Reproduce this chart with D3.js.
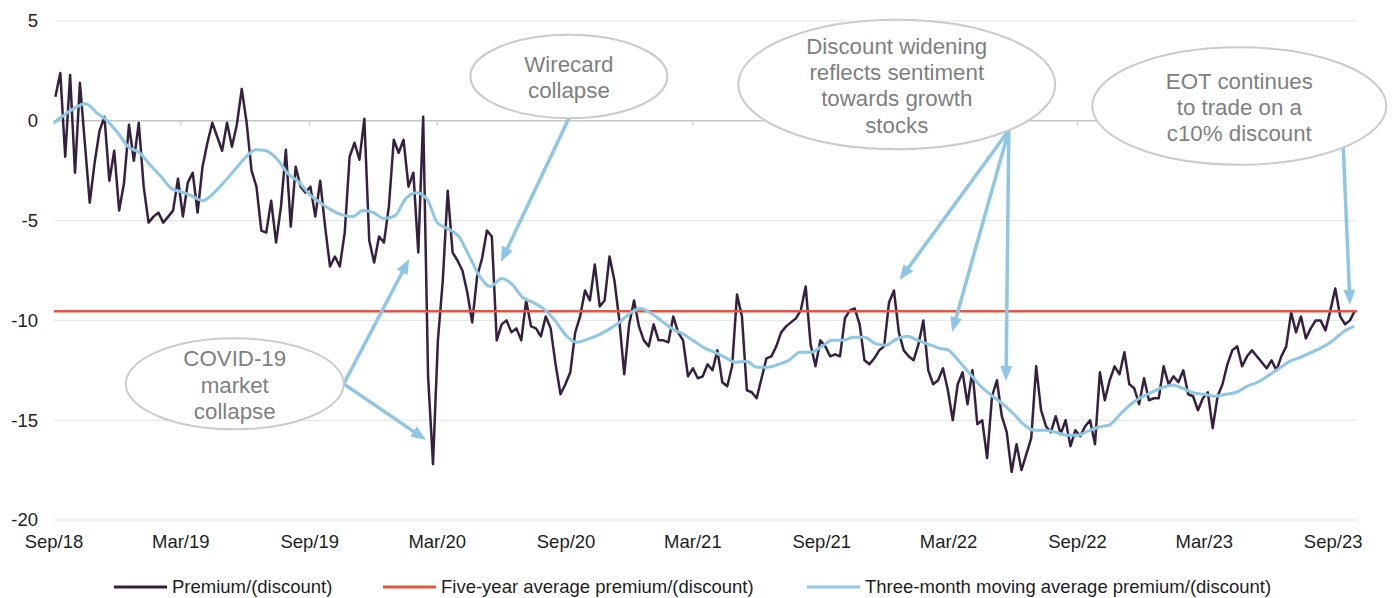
<!DOCTYPE html>
<html lang="en">
<head>
    <meta charset="UTF-8">
    <title>Premium/(discount)</title>
    <script src="https://d3js.org/d3.v7.min.js"></script>
    <style>
        body { margin: 0; background: #fff; }
        text { font-family: "Liberation Sans", Arial, sans-serif; }
    </style>
</head>
<body>
    <svg width="1392" height="598" id="chart"></svg>

    <script>
        // weekly premium/(discount) readings, one per Monday from 3 Sep 2018
        var premiumStart = "2018-09-03";
        var premiumValues = [
            1.2, 2.4, -1.8, 2.3, -2.6, 1.9, -1.1, -4.1, -2.1, -0.5,
            0.2, -3.0, -1.5, -4.5, -3.1, -0.2, -2.0, -0.1, -3.3, -5.1,
            -4.8, -4.6, -5.1, -4.8, -4.5, -2.9, -4.8, -3.1, -2.6, -4.6,
            -2.3, -1.1, -0.1, -0.8, -1.5, -0.1, -1.3, -0.2, 1.6, -0.1,
            -2.5, -3.3, -5.5, -5.6, -4.0, -6.1, -4.3, -1.45, -5.3, -2.3,
            -3.3, -3.6, -3.3, -4.8, -3.0, -5.3, -7.3, -6.8, -7.3, -5.6,
            -1.8, -1.1, -1.95, 0.1, -6.0, -7.1, -5.8, -6.1, -4.3, -0.95,
            -1.6, -0.95, -3.3, -2.6, -6.6, 0.2, -12.8, -17.2, -11.0, -8.0,
            -3.5, -6.6, -7.0, -7.5, -8.6, -10.1, -7.8, -6.9, -5.5, -5.8,
            -11.0, -10.2, -10.0, -10.6, -10.4, -11.0, -9.0, -10.3, -10.4, -10.8,
            -9.8, -10.4, -12.2, -13.7, -13.2, -12.6, -10.6, -9.8, -8.5, -9.0,
            -7.2, -9.3, -9.0, -6.8, -8.0, -10.0, -12.7, -10.2, -9.0, -10.3,
            -11.0, -11.3, -10.2, -11.0, -11.0, -11.1, -9.8, -10.6, -11.0, -12.8,
            -12.4, -12.9, -12.8, -12.2, -12.5, -11.5, -13.1, -13.3, -12.3, -8.7,
            -9.8, -13.5, -13.6, -13.9, -12.9, -11.9, -11.8, -11.3, -10.6, -10.3,
            -10.1, -9.9, -9.5, -8.3, -11.2, -12.3, -11.0, -11.3, -11.8, -11.7,
            -11.8, -9.9, -9.5, -9.4, -10.2, -12.0, -12.2, -11.9, -11.5, -11.3,
            -9.1, -8.5, -10.6, -11.5, -11.8, -12.0, -11.2, -10.0, -12.5, -13.2,
            -13.0, -12.4, -13.5, -15.0, -13.2, -12.6, -14.2, -12.5, -15.2, -15.0,
            -16.9, -13.8, -13.0, -14.8, -15.6, -17.6, -16.2, -17.5, -16.7, -15.9,
            -12.3, -14.5, -15.3, -15.6, -14.8, -15.7, -15.0, -16.3, -15.5, -15.8,
            -15.3, -15.0, -16.2, -12.6, -14.0, -13.0, -12.3, -12.7, -11.6, -13.2,
            -13.4, -14.2, -12.9, -14.0, -13.9, -13.9, -12.3, -13.2, -12.8, -13.1,
            -12.5, -13.7, -13.8, -14.5, -13.9, -13.6, -15.4, -13.8, -13.2, -12.2,
            -11.5, -11.3, -12.3, -11.8, -11.5, -11.8, -12.1, -12.4, -12.0, -12.5,
            -11.8, -11.3, -9.6, -10.6, -9.8, -10.9, -10.4, -10.0, -10.0, -10.5,
            -9.5, -8.4, -9.8, -10.2, -10.0, -9.5
        ];

        // three-month moving average, read on the 1st and 16th of each month from Sep 2018
        var maStart = "2018-09-01";
        var maValues = [
            -0.1, 0.3, 0.65, 0.85, 0.4, 0.0, -0.6, -1.3,
            -1.6, -2.2, -2.8, -3.4, -3.55, -3.75, -4.0, -3.65, -3.1, -2.5, -1.85, -1.45,
            -1.5, -1.9, -2.65, -3.05, -3.7, -4.1, -4.45, -4.7, -4.8, -4.5, -4.6, -4.9,
            -4.75, -3.9, -3.6, -3.95, -5.1, -5.4, -5.8, -6.8, -7.8, -8.3, -7.9, -8.2,
            -8.85, -9.1, -9.45, -10.0, -10.75, -11.1, -10.95, -10.75, -10.45, -10.1, -9.65, -9.4,
            -9.65, -10.05, -10.45, -10.7, -11.0, -11.35, -11.6, -11.85, -12.1, -12.05, -12.35, -12.35,
            -12.2, -12.0, -11.6, -11.6, -11.3, -11.0, -11.0, -10.85, -10.85, -11.15, -11.25, -10.95,
            -10.8, -11.0, -11.2, -11.4, -11.5, -12.05, -12.7, -13.3, -13.75, -14.15, -14.65, -15.2,
            -15.5, -15.5, -15.6, -15.75, -15.75, -15.55, -15.35, -15.25, -14.7, -14.2, -13.85, -13.6,
            -13.35, -13.25, -13.45, -13.65, -13.7, -13.8, -13.7, -13.6, -13.3, -13.1, -12.75, -12.4,
            -12.05, -11.85, -11.6, -11.35, -11.0, -10.55, -10.3
        ];

        var fiveYearAverage = -9.54;

        var xTickLabels = ["Sep/18", "Mar/19", "Sep/19", "Mar/20", "Sep/20", "Mar/21",
                           "Sep/21", "Mar/22", "Sep/22", "Mar/23", "Sep/23"];
        var yTicks = [5, 0, -5, -10, -15, -20];

        var seriesNames = ["Premium/(discount)", "Five-year average premium/(discount)",
                           "Three-month moving average premium/(discount)"];
        var colors = ["#35213f", "#e8543e", "#8cc7e8"];

        // callouts: ellipse centre as (date, value), arrow tips as (date, value)
        var notes = [
            { lines: ["COVID-19", "market", "collapse"], date: "2019-05-17", value: -13.18, rx: 109, ry: 45.5,
              from: 0, tips: [["2020-01-21", -6.92], ["2020-02-14", -15.99]] },
            { lines: ["Wirecard", "collapse"], date: "2020-09-05", value: 2.22, rx: 98.5, ry: 41.7,
              from: 90, tips: [["2020-05-31", -7.07]] },
            { lines: ["Discount widening", "reflects sentiment", "towards growth", "stocks"], date: "2021-12-17", value: 1.82, rx: 158.5, ry: 64.7,
              from: 45, tips: [["2021-12-21", -7.97], ["2022-03-06", -10.58], ["2022-05-22", -13.03]] },
            { lines: ["EOT continues", "to trade on a", "c10% discount"], date: "2023-04-20", value: 0.74, rx: 147, ry: 58.7,
              from: 45, tips: [["2023-09-25", -9.22]] }
        ];

        var parse = d3.timeParse("%Y-%m-%d");
        var svg = d3.select("#chart");

        var x = d3.scaleTime()
            .domain([parse("2018-09-01"), parse("2023-10-05")])
            .range([54, 1357]);
        var y = d3.scaleLinear()
            .domain([-20, 5])
            .range([520, 21]);

        var premiumDates = d3.timeMonday.range(parse(premiumStart), parse("2030-01-01")).slice(0, premiumValues.length);
        var premium = premiumValues.map((v, i) => ({ date: premiumDates[i], value: v }));

        var maDates = [];
        d3.timeMonth.range(parse(maStart), parse("2030-01-01")).forEach(m => {
            maDates.push(m, d3.timeDay.offset(m, 15));
        });
        var ma = maValues.map((v, i) => ({ date: maDates[i], value: v }));

        var tickDates = xTickLabels.map(s => d3.timeParse("%b/%y")(s));

        // gridlines
        svg.append("g")
            .selectAll("line")
            .data(yTicks.filter(d => d != 0))
            .join("line")
            .attr("x1", x.range()[0])
            .attr("x2", x.range()[1])
            .attr("y1", d => y(d))
            .attr("y2", d => y(d))
            .attr("stroke", "#e3e3e3")
            .attr("stroke-width", 1);

        // zero line with date ticks
        svg.append("line")
            .attr("x1", x.range()[0])
            .attr("x2", x.range()[1])
            .attr("y1", y(0))
            .attr("y2", y(0))
            .attr("stroke", "#c6c6c6")
            .attr("stroke-width", 1.5);
        svg.append("g")
            .selectAll("line")
            .data(tickDates)
            .join("line")
            .attr("x1", d => x(d))
            .attr("x2", d => x(d))
            .attr("y1", y(0))
            .attr("y2", y(0) + 5)
            .attr("stroke", "#c6c6c6")
            .attr("stroke-width", 1);

        // axis labels
        svg.append("g")
            .attr("font-size", 18.5)
            .attr("fill", "#1e1e1e")
            .attr("text-anchor", "end")
            .selectAll("text")
            .data(yTicks)
            .join("text")
            .attr("x", 38)
            .attr("y", d => y(d))
            .attr("dy", "0.35em")
            .text(d => d);

        svg.append("g")
            .attr("font-size", 18.5)
            .attr("fill", "#1e1e1e")
            .attr("text-anchor", "middle")
            .selectAll("text")
            .data(tickDates)
            .join("text")
            .attr("x", d => x(d))
            .attr("y", 542)
            .attr("dy", "0.35em")
            .text((d, i) => xTickLabels[i]);

        // series
        var line = d3.line()
            .x(d => x(d.date))
            .y(d => y(d.value));

        svg.append("path")
            .datum(premium)
            .attr("fill", "none")
            .attr("stroke", colors[0])
            .attr("stroke-width", 2.5)
            .attr("stroke-linejoin", "round")
            .attr("d", line);

        svg.append("line")
            .attr("x1", x.range()[0])
            .attr("x2", x.range()[1])
            .attr("y1", y(fiveYearAverage))
            .attr("y2", y(fiveYearAverage))
            .attr("stroke", colors[1])
            .attr("stroke-width", 2.5);

        svg.append("path")
            .datum(ma)
            .attr("fill", "none")
            .attr("stroke", colors[2])
            .attr("stroke-width", 3)
            .attr("stroke-linejoin", "round")
            .attr("d", line.curve(d3.curveMonotoneX));

        // callouts
        var arrowColor = "#8cc7e8";
        var noteG = svg.append("g");
        notes.forEach(n => {
            var cx = x(parse(n.date)), cy = y(n.value);
            var a = n.from * Math.PI / 180;
            var sx = cx + n.rx * Math.cos(a), sy = cy + n.ry * Math.sin(a);

            n.tips.forEach(t => {
                var tx = x(parse(t[0])), ty = y(t[1]);
                var dx = tx - sx, dy = ty - sy, len = Math.sqrt(dx * dx + dy * dy);
                var ux = dx / len, uy = dy / len;
                var head = 15, half = 6;
                var bx = tx - ux * head, by = ty - uy * head;
                noteG.append("line")
                    .attr("x1", sx).attr("y1", sy)
                    .attr("x2", bx + ux * 2).attr("y2", by + uy * 2)
                    .attr("stroke", arrowColor)
                    .attr("stroke-width", 3.5);
                noteG.append("path")
                    .attr("d", "M" + tx + "," + ty +
                        "L" + (bx - uy * half) + "," + (by + ux * half) +
                        "L" + (bx + uy * half) + "," + (by - ux * half) + "Z")
                    .attr("fill", arrowColor);
            });

            noteG.append("ellipse")
                .attr("cx", cx).attr("cy", cy)
                .attr("rx", n.rx).attr("ry", n.ry)
                .attr("fill", "#fff")
                .attr("stroke", "#cbcbcb")
                .attr("stroke-width", 2);

            noteG.append("g")
                .attr("font-size", 22.3)
                .attr("fill", "#7f7f7f")
                .attr("text-anchor", "middle")
                .selectAll("text")
                .data(n.lines)
                .join("text")
                .attr("x", cx)
                .attr("y", (d, i) => cy + (i - (n.lines.length - 1) / 2) * 26.3 + 1)
                .attr("dy", "0.35em")
                .text(d => d);
        });

        // legend
        var legendX = [114, 383, 807];
        var legend = svg.append("g")
            .selectAll("g")
            .data(seriesNames)
            .join("g")
            .attr("transform", (d, i) => "translate(" + legendX[i] + ",587)");

        legend.append("line")
            .attr("x1", 0)
            .attr("x2", 53)
            .attr("stroke", (d, i) => colors[i])
            .attr("stroke-width", 3);

        legend.append("text")
            .attr("x", 58)
            .attr("dy", "0.35em")
            .attr("font-size", 18.5)
            .attr("fill", "#1e1e1e")
            .text(d => d);
    </script>
</body>
</html>
